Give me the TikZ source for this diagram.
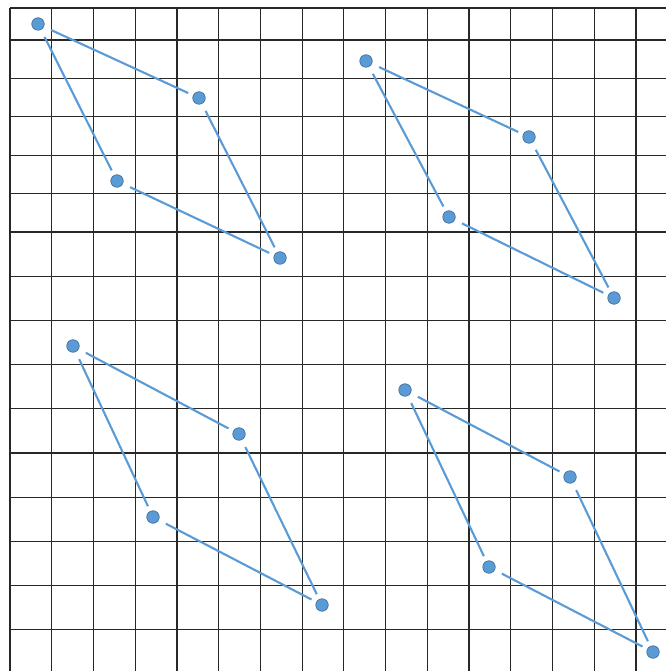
\documentclass[tikz,border=0pt]{standalone}
\usepackage{tikz}
\definecolor{dotblue}{RGB}{91,155,213}
\definecolor{dotedge}{RGB}{65,113,160}
\definecolor{gridline}{RGB}{40,40,40}

\begin{document}
\begin{tikzpicture}[x=0.02cm, y=-0.02cm,
    dot/.style={circle, draw=dotedge, fill=dotblue, line width=0.4pt, minimum size=0.25cm, inner sep=0pt},
    link/.style={draw=dotblue, line width=1.2pt, shorten <=4.5pt, shorten >=3pt},
    rule/.style={draw=gridline, line width=0.7pt},
  ]
  \useasboundingbox (0,0) rectangle (666,671);

  % grid
  \foreach \col in {0,...,15}
    \draw[rule] (10+\col*41.73, 8) -- (10+\col*41.73, 671);
  \foreach \row in {8,40,78.4,116.8,155.2,193.6,232,276.2,320.4,364.6,408.8,453,497.2,541.4,585.6,629.8}
    \draw[rule] (10, \row) -- (666, \row);

  % four parallelograms
  \foreach \n/\ax/\ay/\bx/\by/\cx/\cy/\dx/\dy in {
      1/38/24/199/98/117/181/280/258,
      2/366/61/529/137/449/217/614/298,
      3/73/346/239/434/153/517/322/605,
      4/405/390/570/477/489/567/653/652} {
    \node[dot] (a\n) at (\ax, \ay) {};
    \node[dot] (b\n) at (\bx, \by) {};
    \node[dot] (c\n) at (\cx, \cy) {};
    \node[dot] (d\n) at (\dx, \dy) {};
    \draw[link] (a\n) -- (b\n);
    \draw[link] (a\n) -- (c\n);
    \draw[link] (b\n) -- (d\n);
    \draw[link] (c\n) -- (d\n);
  }
\end{tikzpicture}
\end{document}
